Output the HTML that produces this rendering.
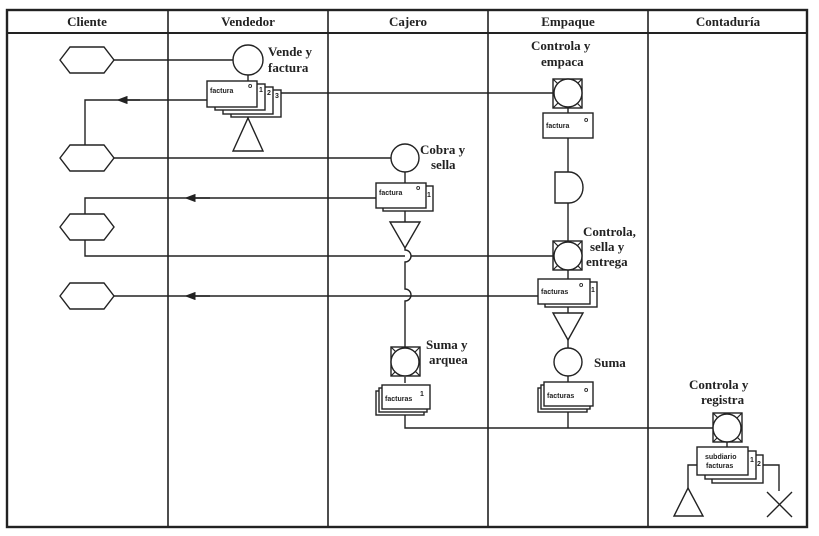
<!DOCTYPE html>
<html><head><meta charset="utf-8"><style>
html,body{margin:0;padding:0;background:#fff;}
svg{display:block;}
text{font-family:"Liberation Serif",serif;fill:#222;}
.h{font-weight:bold;font-size:13px;text-anchor:middle;}
.l{font-size:13px;font-weight:bold;}
.s{font-size:7px;font-family:"Liberation Sans",sans-serif;font-weight:bold;}
</style></head><body>
<svg width="819" height="536" viewBox="0 0 819 536" xmlns="http://www.w3.org/2000/svg">
<defs>
<marker id="a" markerWidth="8" markerHeight="6" refX="4" refY="3" orient="auto"><path d="M0,0 L8,3 L0,6 Z" fill="#222"/></marker>
</defs>
<g stroke="#222" fill="none" stroke-width="1.6">
<rect x="7" y="10" width="800" height="517" stroke-width="2.4"/>
<line x1="7" y1="33" x2="807" y2="33" stroke-width="2"/>
<line x1="168" y1="10" x2="168" y2="527"/>
<line x1="328" y1="10" x2="328" y2="527"/>
<line x1="488" y1="10" x2="488" y2="527"/>
<line x1="648" y1="10" x2="648" y2="527"/>
</g>
<text class="h" x="87" y="26">Cliente</text>
<text class="h" x="248" y="26">Vendedor</text>
<text class="h" x="408" y="26">Cajero</text>
<text class="h" x="568" y="26">Empaque</text>
<text class="h" x="728" y="26">Contaduría</text>

<g stroke="#222" fill="none" stroke-width="1.4">
<line x1="113" y1="60" x2="233" y2="60"/>
<line x1="248" y1="75" x2="248" y2="81"/>
<line x1="281" y1="93" x2="553" y2="93"/>
<path d="M207,100 H85 V145"/>
<line x1="140" y1="100" x2="122" y2="100" marker-end="url(#a)"/>
<line x1="248" y1="110" x2="248" y2="118"/>
<line x1="113" y1="158" x2="391" y2="158"/>
<line x1="405" y1="172" x2="405" y2="183"/>
<path d="M376,198 H85 V214"/>
<line x1="210" y1="198" x2="190" y2="198" marker-end="url(#a)"/>
<path d="M85,240 V256 H553"/>
<path d="M405,210 V222"/>
<path d="M405,248 V250 a5,5 0 0 1 0,12 V289 a5,5 0 0 1 0,12 V347" fill="#fff"/>
<line x1="113" y1="296" x2="538" y2="296"/>
<line x1="210" y1="296" x2="190" y2="296" marker-end="url(#a)"/>
<line x1="405" y1="377" x2="405" y2="383"/>
<path d="M405,412 V428 H713"/>
<line x1="568" y1="108" x2="568" y2="113"/>
<line x1="568" y1="138" x2="568" y2="172"/>
<line x1="568" y1="203" x2="568" y2="241"/>
<line x1="568" y1="270" x2="568" y2="279"/>
<line x1="568" y1="307" x2="568" y2="313"/>
<line x1="568" y1="340" x2="568" y2="348"/>
<line x1="568" y1="376" x2="568" y2="382"/>
<line x1="568" y1="408" x2="568" y2="428"/>
<line x1="727" y1="442" x2="727" y2="447"/>
<path d="M697,465 H688 V488"/>
<path d="M763,465 H779 V491"/>

<polygon points="60,60 70,47 104,47 114,60 104,73 70,73" fill="#fff"/>
<polygon points="60,158 70,145 104,145 114,158 104,171 70,171" fill="#fff"/>
<polygon points="60,227 70,214 104,214 114,227 104,240 70,240" fill="#fff"/>
<polygon points="60,296 70,283 104,283 114,296 104,309 70,309" fill="#fff"/>

<circle cx="248" cy="60" r="15" fill="#fff"/>
<rect x="231" y="90" width="50" height="27" fill="#fff"/>
<rect x="223" y="87" width="50" height="27" fill="#fff"/>
<rect x="215" y="84" width="50" height="26" fill="#fff"/>
<rect x="207" y="81" width="50" height="26" fill="#fff"/>
<polygon points="248,118 263,151 233,151" fill="#fff"/>

<circle cx="405" cy="158" r="14" fill="#fff"/>
<rect x="383" y="186" width="50" height="25" fill="#fff"/>
<rect x="376" y="183" width="50" height="25" fill="#fff"/>
<polygon points="390,222 420,222 405,248" fill="#fff"/>
<rect x="391" y="347" width="29" height="29" fill="#fff"/>
<rect x="376" y="391" width="48" height="24" fill="#fff"/>
<rect x="379" y="388" width="48" height="24" fill="#fff"/>
<rect x="382" y="385" width="48" height="24" fill="#fff"/>

<rect x="553" y="79" width="29" height="29" fill="#fff"/>
<rect x="543" y="113" width="50" height="25" fill="#fff"/>
<path d="M555,172 H569 A14,15.5 0 0 1 569,203 H555 Z" fill="#fff"/>
<rect x="553" y="241" width="29" height="29" fill="#fff"/>
<rect x="545" y="282" width="52" height="25" fill="#fff"/>
<rect x="538" y="279" width="52" height="25" fill="#fff"/>
<polygon points="553,313 583,313 568,340" fill="#fff"/>
<circle cx="568" cy="362" r="14" fill="#fff"/>
<rect x="538" y="388" width="49" height="24" fill="#fff"/>
<rect x="541" y="385" width="49" height="24" fill="#fff"/>
<rect x="544" y="382" width="49" height="24" fill="#fff"/>

<rect x="713" y="413" width="29" height="29" fill="#fff"/>
<rect x="712" y="455" width="51" height="28" fill="#fff"/>
<rect x="705" y="451" width="51" height="28" fill="#fff"/>
<rect x="697" y="447" width="51" height="28" fill="#fff"/>
<polygon points="688,488 703,516 674,516" fill="#fff"/>
<path d="M767,492 L792,517 M792,492 L767,517"/>
</g>
<g stroke="#222" stroke-width="1.2">
<line x1="553" y1="79" x2="582" y2="108"/><line x1="582" y1="79" x2="553" y2="108"/>
<line x1="553" y1="241" x2="582" y2="270"/><line x1="582" y1="241" x2="553" y2="270"/>
<line x1="391" y1="347" x2="420" y2="376"/><line x1="420" y1="347" x2="391" y2="376"/>
<line x1="713" y1="413" x2="742" y2="442"/><line x1="742" y1="413" x2="713" y2="442"/>
</g>
<g stroke="#222" stroke-width="1.4" fill="#fff">
<circle cx="568" cy="93" r="14"/>
<circle cx="568" cy="256" r="14"/>
<circle cx="405" cy="362" r="14"/>
<circle cx="727" cy="428" r="14"/>
</g>

<text class="s" x="210" y="93">factura</text><text class="s" x="248" y="88">o</text>
<text class="s" x="259" y="92">1</text><text class="s" x="267" y="95">2</text><text class="s" x="275" y="98">3</text>
<text class="s" x="379" y="195">factura</text><text class="s" x="416" y="190">o</text><text class="s" x="427" y="197">1</text>
<text class="s" x="385" y="401">facturas</text><text class="s" x="420" y="396">1</text>
<text class="s" x="546" y="128">factura</text><text class="s" x="584" y="122">o</text>
<text class="s" x="541" y="294">facturas</text><text class="s" x="579" y="287">o</text><text class="s" x="591" y="292">1</text>
<text class="s" x="547" y="398">facturas</text><text class="s" x="584" y="392">o</text>
<text class="s" x="705" y="459">subdiario</text><text class="s" x="706" y="468">facturas</text>
<text class="s" x="750" y="462">1</text><text class="s" x="757" y="466">2</text>

<text class="l" x="268" y="56">Vende y</text><text class="l" x="268" y="72">factura</text>
<text class="l" x="420" y="154">Cobra y</text><text class="l" x="431" y="169">sella</text>
<text class="l" x="531" y="50">Controla y</text><text class="l" x="541" y="66">empaca</text>
<text class="l" x="583" y="236">Controla,</text><text class="l" x="590" y="251">sella y</text><text class="l" x="586" y="266">entrega</text>
<text class="l" x="426" y="349">Suma y</text><text class="l" x="429" y="364">arquea</text>
<text class="l" x="594" y="367">Suma</text>
<text class="l" x="689" y="389">Controla y</text><text class="l" x="701" y="404">registra</text>
</svg>
</body></html>
